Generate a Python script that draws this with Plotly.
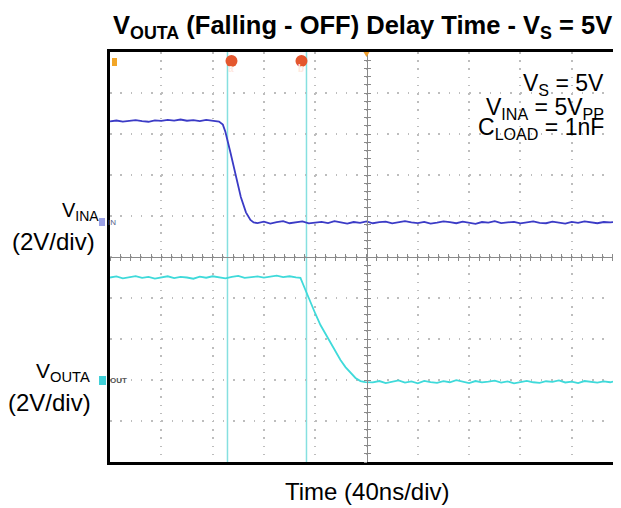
import plotly.graph_objects as go

# ---------------- data (time in ns, volts) ----------------
t_in = [-200, -195, -190, -185, -180, -175, -170, -165, -160, -155,
        -150, -145, -140, -135, -130, -125, -120, -115,
        -112, -110, -106, -102, -98, -94, -90.5, -88,
        -85, -80, -75, -70, -65, -60, -55, -50, -45, -40,
        -35, -30, -25, -20, -15, -10, -5, 0, 5, 10,
        15, 20, 25, 30, 35, 40, 45, 50, 55, 60,
        65, 70, 75, 80, 85, 90, 95, 100, 105, 110,
        115, 120, 125, 130, 135, 140, 145, 150, 155, 160,
        165, 170, 175, 180, 185, 190, 195, 200]
v_in = [4.91, 4.95, 4.90, 4.94, 4.97, 4.92, 4.89, 4.96, 4.93, 4.98,
        4.95, 5.00, 4.94, 4.97, 4.92, 4.98, 4.95, 4.90,
        4.75, 4.39, 3.37, 2.29, 1.22, 0.47, 0.10, -0.02,
        -0.05, 0.02, -0.08, -0.01, 0.04, -0.06, -0.02, 0.03, -0.07, -0.03,
        0.01, -0.05, 0.04, -0.02, -0.08, 0.00, -0.04, 0.03, -0.06, -0.01,
        0.02, -0.07, -0.03, 0.04, -0.02, -0.05, 0.01, -0.08, -0.03, 0.03,
        -0.01, -0.06, 0.02, -0.04, -0.09, 0.00, -0.03, 0.04, -0.05, -0.02,
        0.01, -0.07, -0.01, 0.03, -0.04, -0.06, 0.02, -0.02, -0.08, 0.01,
        -0.04, 0.03, -0.03, -0.06, 0.00, -0.02, 0.02, -0.05]

t_out = [-200, -195, -190, -185, -180, -175, -170, -165, -160, -155,
         -150, -145, -140, -135, -130, -125, -120, -115, -110, -105,
         -100, -95, -90, -85, -80, -75, -70, -65, -60, -55,
         -51.5, -47.6, -43.7, -39.8, -35.9, -32, -28.1, -24.2, -20.3, -16.4,
         -12.5, -8.6, -4.7, -1,
         5, 10, 15, 20, 25, 30, 35, 40, 45, 50,
         55, 60, 65, 70, 75, 80, 85, 90, 95, 100,
         105, 110, 115, 120, 125, 130, 135, 140, 145, 150,
         155, 160, 165, 170, 175, 180, 185, 190, 195, 200]
v_out = [5.00, 5.05, 4.96, 5.02, 5.07, 4.98, 5.03, 4.95, 5.01, 5.06,
         4.97, 5.03, 5.00, 4.94, 5.04, 4.99, 5.06, 5.01, 4.96, 5.03,
         5.08, 4.98, 5.02, 5.05, 4.99, 5.04, 5.09, 5.02, 5.06, 5.01,
         4.98, 4.39, 3.76, 3.22, 2.68, 2.24, 1.80, 1.41, 0.98, 0.63,
         0.34, 0.10, -0.05, -0.10,
         -0.12, -0.05, -0.15, -0.08, -0.02, -0.13, -0.07, -0.16, -0.04, -0.10,
         -0.14, -0.06, -0.11, -0.01, -0.09, -0.15, -0.05, -0.12, -0.08, -0.03,
         -0.13, -0.07, -0.16, -0.10, -0.04, -0.11, -0.14, -0.06, -0.09, -0.02,
         -0.12, -0.08, -0.15, -0.05, -0.10, -0.13, -0.07, -0.11, -0.04, -0.09]

cursor_times = [-108.4, -46.8]
cursor_labels = ["a", "b"]
cursor_label_offsets = [4, -5]

x_range = [-200, 200]              # 40 ns/div, 10 div
ch2_range = [-4.0, 16.0]           # 2 V/div, ground 3 div below centre
ch1_range = [-11.707, 8.293]       # 2 V/div

FONT = "Liberation Sans, Arial, sans-serif"
BLUE = "#3b3bc6"
CYAN = "#3fdada"
CURSOR = "#86e0e0"
GRID = "#bdbdbd"
CENTER = "#8a8a8a"

fig = go.Figure()

# dummy traces so that the crosshair axes exist
for xa, ya in [("x2", "y"), ("x3", "y"), ("x", "y3"), ("x", "y4")]:
    fig.add_trace(go.Scatter(x=[None], y=[None], xaxis=xa, yaxis=ya,
                             showlegend=False, hoverinfo="skip"))

fig.add_trace(go.Scatter(x=t_out, y=v_out, mode="lines", xaxis="x", yaxis="y",
                         line=dict(color=CYAN, width=1.8), showlegend=False))
fig.add_trace(go.Scatter(x=t_in, y=v_in, mode="lines", xaxis="x", yaxis="y2",
                         line=dict(color=BLUE, width=1.8), showlegend=False))

shapes = []
annotations = []

# cursors
for ct, lab, off in zip(cursor_times, cursor_labels, cursor_label_offsets):
    shapes.append(dict(type="line", xref="x", yref="paper", x0=ct, x1=ct, y0=0, y1=1,
                       line=dict(color=CURSOR, width=1.5), layer="below"))
    shapes.append(dict(type="circle", xref="x", yref="paper", layer="below",
                       xsizemode="pixel", ysizemode="pixel", xanchor=ct, yanchor=1,
                       x0=off - 6, x1=off + 6, y0=-15, y1=-3,
                       fillcolor="#e4572e", line=dict(width=0)))
    annotations.append(dict(x=ct, y=1, xref="x", yref="paper", text="<b>" + lab + "</b>",
                            showarrow=False, xshift=off, yshift=-9,
                            font=dict(family=FONT, size=10, color="#ffe8e0")))

# trigger marker (top centre) and channel markers
shapes.append(dict(type="path", xref="x", yref="paper", xsizemode="pixel", ysizemode="pixel",
                   xanchor=0, yanchor=1, path="M -3,0 L 3,0 L 0,-5 Z",
                   fillcolor="#f0a030", line=dict(width=0)))
shapes.append(dict(type="path", xref="paper", yref="paper", xsizemode="pixel", ysizemode="pixel",
                   xanchor=1, yanchor=1, path="M -6,0 L -1,0 L -1,-5 Z",
                   fillcolor=BLUE, line=dict(width=0)))
shapes.append(dict(type="rect", xref="paper", yref="paper", xsizemode="pixel", ysizemode="pixel",
                   xanchor=0, yanchor=1, x0=2, x1=7, y0=-6, y1=-14,
                   fillcolor="#f2a628", line=dict(width=0)))
# ch1 ground marker
shapes.append(dict(type="rect", xref="paper", yref="y2", xsizemode="pixel", ysizemode="pixel",
                   xanchor=0, yanchor=0, x0=-11, x1=-5, y0=-4, y1=4,
                   fillcolor="#9aa0e6", line=dict(width=0)))
annotations.append(dict(x=0, y=0, xref="paper", yref="y2", text="IN", showarrow=False,
                        xanchor="left", xshift=-4, font=dict(family=FONT, size=8, color="#55608a")))
# ch2 ground marker
shapes.append(dict(type="rect", xref="paper", yref="y", xsizemode="pixel", ysizemode="pixel",
                   xanchor=0, yanchor=0, x0=-11, x1=-4, y0=-5, y1=4,
                   fillcolor="#3fd0d8", line=dict(width=0)))
annotations.append(dict(x=0, y=0, xref="paper", yref="y", text="<b>OUT</b>", showarrow=False,
                        xanchor="left", xshift=-2, font=dict(family=FONT, size=8, color="#555555")))

# title
annotations.append(dict(x=0.493, y=1, xref="paper", yref="paper", xanchor="center", yanchor="bottom",
                        yshift=7, showarrow=False,
                        text="<b>V<sub>OUTA</sub> (Falling - OFF) Delay Time - V<sub>S</sub> = 5V</b>",
                        font=dict(family=FONT, size=25.5, color="black")))

# conditions box
cond = [("V<sub>S</sub> = 5V", 0.921),
        ("V<sub>INA</sub> = 5V<sub>PP</sub>", 0.861),
        ("C<sub>LOAD</sub> = 1nF", 0.813)]
for txt, yy in cond:
    annotations.append(dict(x=0.966, y=yy, xref="paper", yref="paper", xanchor="right",
                            yanchor="middle", showarrow=False, text=txt,
                            font=dict(family=FONT, size=23, color="black")))

# channel labels
left_labels = [("V<sub>INA</sub>", -0.0185, 0.610, 20),
               ("(2V/div)", -0.0263, 0.539, 24),
               ("V<sub>OUTA</sub>", -0.036, 0.220, 21),
               ("(2V/div)", -0.0341, 0.146, 24)]
for txt, xx, yy, fs in left_labels:
    annotations.append(dict(x=xx, y=yy, xref="paper", yref="paper", xanchor="right",
                            yanchor="middle", showarrow=False, text=txt,
                            font=dict(family=FONT, size=fs, color="black")))

# x title
annotations.append(dict(x=0.5, y=0, xref="paper", yref="paper", xanchor="center", yanchor="top",
                        yshift=-14, showarrow=False, text="Time (40ns/div)",
                        font=dict(family=FONT, size=24, color="black")))

grid_x = dict(showgrid=True, gridcolor=GRID, gridwidth=1.5, griddash="1.5px,6.7px")
grid_y = dict(showgrid=True, gridcolor=GRID, gridwidth=1.5, griddash="1.5px,8.76px")

cross = dict(showline=True, linecolor=CENTER, linewidth=1, ticklen=3, tickcolor=CENTER,
             tickwidth=1, showticklabels=False, showgrid=False, zeroline=False)

fig.update_layout(
    width=621, height=508,
    margin=dict(l=102, r=6, t=44, b=54),
    paper_bgcolor="white", plot_bgcolor="white",
    showlegend=False,
    xaxis=dict(range=x_range, tick0=0, dtick=40, ticks="", showticklabels=False,
               zeroline=False, showline=True, linecolor="black", linewidth=3, mirror=True,
               **grid_x),
    yaxis=dict(range=ch2_range, tick0=0, dtick=2, ticks="", showticklabels=False,
               zeroline=False, showline=True, linecolor="black", linewidth=3, mirror=False,
               **grid_y),
    yaxis2=dict(range=ch1_range, overlaying="y", visible=False),
    xaxis2=dict(range=x_range, overlaying="x", anchor="free", position=0.5, side="bottom",
                tick0=0, dtick=8, ticks="outside", **cross),
    xaxis3=dict(range=x_range, overlaying="x", anchor="free", position=0.5, side="bottom",
                tick0=0, dtick=8, ticks="inside", **cross),
    yaxis3=dict(range=ch2_range, overlaying="y", anchor="free", position=0.5,
                side="left", tick0=0, dtick=0.4, ticks="outside", **cross),
    yaxis4=dict(range=ch2_range, overlaying="y", anchor="free", position=0.5,
                side="left", tick0=0, dtick=0.4, ticks="inside", **cross),
    shapes=shapes,
    annotations=annotations,
)

fig.write_html("out.html")
